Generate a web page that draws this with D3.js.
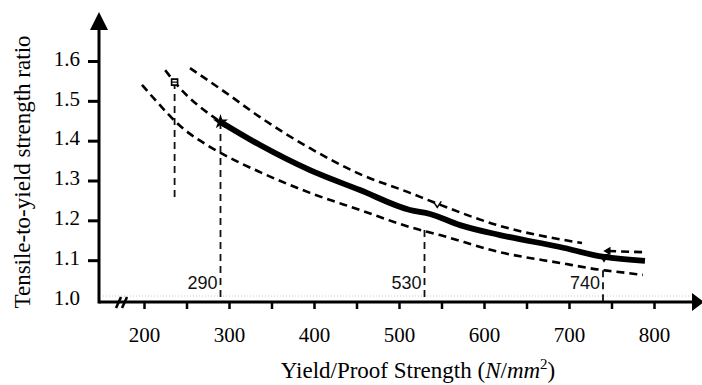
<!DOCTYPE html>
<html><head><meta charset="utf-8">
<script src="https://cdn.jsdelivr.net/npm/d3@7"></script>
<style>
html,body{margin:0;padding:0;background:#fff;}
svg{display:block;}
.serif{font-family:"Liberation Serif","Times New Roman",Times,serif;}
.sans{font-family:"Liberation Sans",Arial,Helvetica,sans-serif;}
</style></head>
<body>
<svg id="chart" width="702" height="385"></svg>
<script>
// ---- data ----
const xTickValues = [200,250,300,350,400,450,500,550,600,650,700,750,800];
const xTickLabels = [200,300,400,500,600,700,800];
const yTickValues = [1.0,1.1,1.2,1.3,1.4,1.5,1.6];

const mainSolidX = [290,336.5,395.3,454.1,512.9,536.5,571.8,618.8,689.4,741.2,789.4];
const mainSolidY = [1.447,1.389,1.326,1.276,1.226,1.216,1.188,1.163,1.133,1.108,1.098];

const mainDashX = [225,236,290];
const mainDashY = [1.577,1.547,1.447];

const upperX = [254.1,295.3,336.5,395.3,454.1,512.9,540.0,618.8,715.3];
const upperY = [1.582,1.522,1.459,1.381,1.316,1.269,1.246,1.186,1.143];

const upperEndX = [746,787];
const upperEndY = [1.123,1.120];

const lowerX = [197.6,218.8,236.5,254.1,274.1,292.9,336.5,395.3,454.1,512.9,548.2,618.8,689.4,740,748,787];
const lowerY = [1.540,1.489,1.449,1.417,1.389,1.366,1.321,1.269,1.226,1.183,1.163,1.120,1.093,1.075,1.073,1.063];

const markX = [236,290,530,740];
const markTopY = [1.547,1.447,1.176,1.075];
const markBottomY = [1.258,0.995,0.995,0.995];
const markLabels = ["","290","530","740"];

// ---- layout ----
const svg = d3.select("#chart");
const x = d3.scaleLinear().domain([200,800]).range([144,654]);
const y = d3.scaleLinear().domain([1.0,1.6]).range([300,61]);
const axisY = 302, axisX = 99;

const zip = (xs, ys) => xs.map((v,i)=>[v, ys[i]]);
const line = d3.line().x(d=>x(d[0])).y(d=>y(d[1])).curve(d3.curveMonotoneX);

// faint dotted scan line
svg.append("line").attr("x1",103).attr("x2",690).attr("y1",296).attr("y2",296)
  .attr("stroke","#c8c8c8").attr("stroke-width",1).attr("stroke-dasharray","1,2");

// vertical marker lines
markX.forEach((mx,i)=>{
  svg.append("line")
    .attr("x1",x(mx)).attr("x2",x(mx))
    .attr("y1",y(markTopY[i])).attr("y2",y(markBottomY[i]))
    .attr("stroke","#111").attr("stroke-width",1.8).attr("stroke-dasharray","7,5");
  if(markLabels[i]){
    svg.append("text").attr("class","sans").attr("x",x(mx)-3).attr("y",289)
      .attr("text-anchor","end").style("font-size","18px")
      .attr("fill","#111").text(markLabels[i]);
  }
});

// curves
const dashStyle = sel => sel.attr("fill","none").attr("stroke","#000")
  .attr("stroke-width",2.6).attr("stroke-dasharray","8,5");
svg.append("path").datum(zip(upperX,upperY)).attr("d",line).call(dashStyle);
svg.append("path").datum(zip(upperEndX,upperEndY)).attr("d",line).call(dashStyle);
svg.append("path").datum(zip(lowerX,lowerY)).attr("d",line).call(dashStyle);
svg.append("path").datum(zip(mainDashX,mainDashY)).attr("d",line).call(dashStyle);
svg.append("path").datum(zip(mainSolidX,mainSolidY)).attr("d",line)
  .attr("fill","none").attr("stroke","#000").attr("stroke-width",5.8).attr("stroke-linecap","butt");

// markers
svg.append("path").attr("d",d3.symbol(d3.symbolSquare,36)())
  .attr("transform",`translate(${x(mainDashX[1])},${y(mainDashY[1])})`)
  .attr("fill","#fff").attr("stroke","#000").attr("stroke-width",1.6);
svg.append("line").attr("x1",x(mainDashX[1])-3).attr("x2",x(mainDashX[1])+3)
  .attr("y1",y(mainDashY[1])).attr("y2",y(mainDashY[1])).attr("stroke","#000").attr("stroke-width",1.2);
svg.append("path").attr("d",d3.symbol(d3.symbolStar,70)())
  .attr("transform",`translate(${x(mainSolidX[0])},${y(mainSolidY[0])})`).attr("fill","#000");
svg.append("path").attr("d",d3.symbol(d3.symbolTriangle,45)())
  .attr("transform",`translate(${x(mainSolidX[9])},${y(mainSolidY[9])}) rotate(180)`).attr("fill","#000");
svg.append("path").attr("d",d3.symbol(d3.symbolTriangle,30)())
  .attr("transform",`translate(${x(upperEndX[0])},${y(upperEndY[0])}) rotate(-90)`).attr("fill","#000");
svg.append("path").attr("d","M-4,-3L0,3L4,-3")
  .attr("transform",`translate(${x(545)},${y(1.24)})`).attr("fill","none").attr("stroke","#000").attr("stroke-width",1.5);

// x axis ticks and labels
const xAxis = d3.axisBottom(x).tickValues(xTickValues).tickSizeInner(7).tickSizeOuter(0).tickPadding(18)
  .tickFormat(d => xTickLabels.includes(d) ? d : "");
const gx = svg.append("g").attr("transform",`translate(0,${axisY})`).call(xAxis)
  .attr("font-family",null).attr("font-size",null);
gx.select(".domain").remove();
gx.selectAll(".tick line").attr("stroke","#000").attr("stroke-width",2.5);
gx.selectAll(".tick text").attr("class","serif").style("font-size","21px").attr("fill","#000");

// y axis ticks and labels
const yAxis = d3.axisLeft(y).tickValues(yTickValues).tickSizeInner(11).tickSizeOuter(0).tickPadding(8)
  .tickFormat(d3.format(".1f"));
const gy = svg.append("g").attr("transform",`translate(${axisX},0)`).call(yAxis)
  .attr("font-family",null).attr("font-size",null);
gy.select(".domain").remove();
gy.selectAll(".tick line").attr("stroke","#000").attr("stroke-width",3)
  .attr("display",d=>d===1.0?"none":null);
gy.selectAll(".tick text").attr("class","serif").style("font-size","21px").attr("fill","#000").attr("dy","0.2em");

// axis lines with arrows
svg.append("line").attr("x1",axisX).attr("x2",694).attr("y1",axisY).attr("y2",axisY)
  .attr("stroke","#000").attr("stroke-width",3);
svg.append("path").attr("d",`M692,${axisY-9}L704,${axisY}L692,${axisY+9}Z`).attr("fill","#000");
svg.append("line").attr("x1",axisX).attr("x2",axisX).attr("y1",axisY+1.5).attr("y2",28)
  .attr("stroke","#000").attr("stroke-width",3);
svg.append("path").attr("d",`M${axisX-9},30L${axisX},12L${axisX+9},30Z`).attr("fill","#000");

// axis break
[[116,121],[122,127]].forEach(([a,b])=>{
  svg.append("line").attr("x1",a).attr("y1",308).attr("x2",b).attr("y2",297)
    .attr("stroke","#000").attr("stroke-width",2.6);
});

// axis titles
svg.append("text").attr("class","serif").attr("transform","translate(30,172) rotate(-90)")
  .attr("text-anchor","middle").style("font-size","23px").attr("fill","#000")
  .text("Tensile-to-yield strength ratio");

const xt = svg.append("text").attr("class","serif").attr("x",418).attr("y",378).attr("text-anchor","middle")
  .style("font-size","23px").attr("fill","#000");
xt.append("tspan").text("Yield/Proof Strength (");
xt.append("tspan").attr("font-style","italic").text("N");
xt.append("tspan").text("/");
xt.append("tspan").attr("font-style","italic").text("mm");
xt.append("tspan").style("font-size","15px").attr("dy",-9).text("2");
xt.append("tspan").attr("dy",9).text(")");
</script>
</body></html>
